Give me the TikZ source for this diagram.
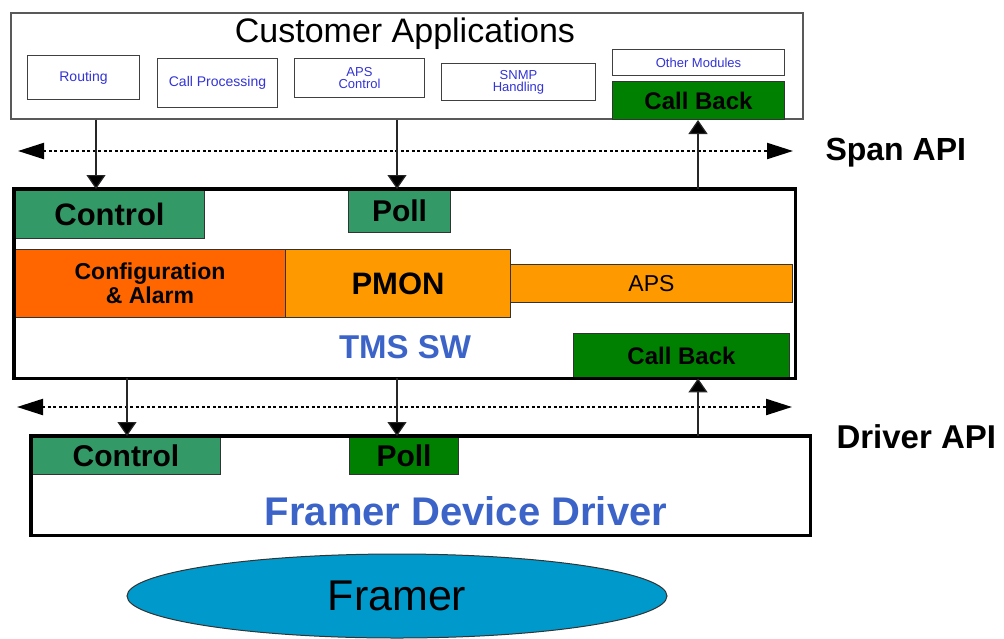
\documentclass[tikz,border=0pt]{standalone}
\usepackage{fontspec}
\setmainfont{Liberation Sans}
\usetikzlibrary{arrows.meta,shapes.geometric}
\definecolor{seag}{RGB}{51,153,102}
\definecolor{dgreen}{RGB}{0,128,0}
\definecolor{ored}{RGB}{255,102,0}
\definecolor{orng}{RGB}{255,153,0}
\definecolor{smblue}{RGB}{51,51,214}
\definecolor{bigblue}{RGB}{60,100,200}
\definecolor{framerc}{RGB}{0,153,204}
\tikzset{
  fs/.style={font=\fontsize{#1}{#1}\selectfont},
  box/.style={draw=black!75, line width=1pt, fill=white, anchor=north west, inner sep=0pt, align=center, text=smblue, fs=14},
  gbox/.style={draw=black!80, line width=1pt, anchor=north west, inner sep=0pt, align=center, font=\fontsize{#1}{#1}\selectfont\bfseries},
  frame/.style={line width=3.5pt, draw=black},
  arr/.style={draw=black!85, line width=1.2pt, -{Triangle[length=14pt,width=19pt,fill=black]}},
  api/.style={line width=2.2pt, dash pattern=on 3pt off 2.5pt, {Triangle[length=26pt,width=16pt]}-{Triangle[length=26pt,width=16pt]}},
  lbl/.style={font=\fontsize{#1}{#1}\selectfont\bfseries, anchor=west},
}
\begin{document}
\begin{tikzpicture}[x=1pt,y=-1pt]
\useasboundingbox (0,0) rectangle (1004,638);
% Customer applications
\node[draw=black!65, line width=1.5pt, fill=white, anchor=north west, minimum width=792, minimum height=106, inner sep=0pt] (ca) at (10,12) {};
\node[fs=34] (catitle) at (405,34) {Customer Applications};
\node[box, minimum width=112, minimum height=44] (routing) at (27,55) {Routing};
\node[box, minimum width=120, minimum height=49] (callproc) at (157,58) {Call Processing};
\node[box, minimum width=130, minimum height=39, fs=13] (apsctl) at (294,58) {APS\\[-1pt]Control};
\node[box, minimum width=154, minimum height=37, fs=13] (snmp) at (441,63) {SNMP\\[-1pt]Handling};
\node[box, minimum width=172, minimum height=26, fs=13] (other) at (612,49) {Other Modules};
\node[gbox=24, fill=dgreen, minimum width=172, minimum height=38] (cb1) at (612,81) {Call Back};
% TMS SW
\node[fill=white, anchor=north west, minimum width=781, minimum height=189, inner sep=0pt] (tms) at (14,189) {};
\node[gbox=31, fill=seag, minimum width=190, minimum height=49] (ctl1) at (14,189) {Control};
\node[gbox=30, fill=seag, minimum width=102, minimum height=43] (poll1) at (348,189) {Poll};
\node[gbox=24, fill=ored, minimum width=271, minimum height=68, font=\fontsize{23}{24}\selectfont\bfseries] (cfg) at (14,249) {Configuration\\\& Alarm};
\node[gbox=31, fill=orng, minimum width=225, minimum height=68] (pmon) at (285,249) {PMON};
\node[draw=black!80, line width=1pt, fill=orng, anchor=north west, inner sep=0pt, minimum width=282, minimum height=38, fs=23] (aps) at (510,264) {APS};
\node[gbox=24, fill=dgreen, minimum width=216, minimum height=45] (cb2) at (573,333) {Call Back};
\node[text=bigblue, font=\fontsize{33}{33}\selectfont\bfseries] (tmslbl) at (405,347) {TMS SW};
\draw[frame] (tms.north west) rectangle (tms.south east);
% Framer device driver
\node[fill=white, anchor=north west, minimum width=779, minimum height=99, inner sep=0pt] (fdd) at (31,436) {};
\node[gbox=30, fill=seag, minimum width=189, minimum height=38] (ctl2) at (31,436) {Control};
\node[gbox=30, fill=dgreen, minimum width=109, minimum height=38] (poll2) at (349,436) {Poll};
\node[text=bigblue, font=\fontsize{40}{40}\selectfont\bfseries] (fddlbl) at (466,511) {Framer Device Driver};
\draw[frame] (fdd.north west) rectangle (fdd.south east);
% Framer
\node[ellipse, draw=black!80, line width=1pt, fill=framerc, minimum width=540, minimum height=84, inner sep=0pt, fs=43] (framer) at (397,596) {Framer};
% API lines
\coordinate (s1) at (18,151);
\coordinate (s2) at (793,151);
\coordinate (d1) at (17,407);
\coordinate (d2) at (792,407);
\draw[api] (s1) -- (s2);
\draw[api] (d1) -- (d2);
\node[lbl=32] (spanapi) at (822,153) {Span API};
\node[lbl=33] (drvapi) at (833,437) {Driver API};
% connectors
\coordinate (xa) at (96,0);
\coordinate (xb) at (397,0);
\coordinate (xc) at (698,0);
\coordinate (xd) at (127,0);
\draw[arr] (ca.south -| xa) -- (tms.north -| xa);
\draw[arr] (ca.south -| xb) -- (tms.north -| xb);
\draw[arr] (tms.north -| xc) -- (cb1.south -| xc);
\draw[arr] (tms.south -| xd) -- (fdd.north -| xd);
\draw[arr] (tms.south -| xb) -- (fdd.north -| xb);
\draw[arr] (fdd.north -| xc) -- (tms.south -| xc);
\end{tikzpicture}
\end{document}
